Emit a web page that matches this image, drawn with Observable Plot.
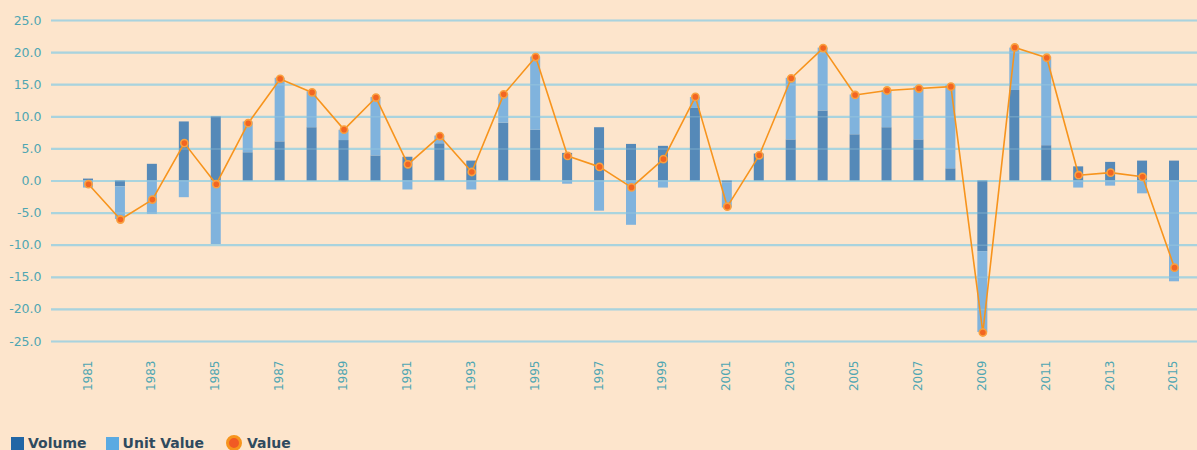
<!DOCTYPE html>
<html>
<head>
<meta charset="utf-8">
<script src="https://cdn.jsdelivr.net/npm/d3@7"></script>
<script src="https://cdn.jsdelivr.net/npm/@observablehq/plot@0.6"></script>
<style>
  html, body { margin: 0; padding: 0; background: #fde5cc; overflow: hidden; }
  #chart svg { display: block; }
  .legend { display: flex; align-items: center; height: 16px; padding-top: 1px; margin-left: 11px;
            font-family: "DejaVu Sans", sans-serif; font-weight: bold; font-size: 14px; color: #2f4a5e; }
  .legend .sw { width: 13px; height: 13px; margin-right: 4px; }
  .legend .item { display: flex; align-items: center; }
  .legend .dotsw { width: 10px; height: 10px; border-radius: 50%; background: #f15a24; border: 3px solid #f7941d; margin-right: 5px; }
</style>
</head>
<body>
<div id="chart"></div>
<div class="legend">
  <div class="item"><div class="sw" style="background:#2166a5"></div><span>Volume</span></div>
  <div class="item" style="margin-left:19px"><div class="sw" style="background:#5aaae2"></div><span>Unit Value</span></div>
  <div class="item" style="margin-left:22px"><div class="dotsw"></div><span>Value</span></div>
</div>
<script>
const years = d3.range(1981, 2016);
const volume = [0.3, -0.9, 2.6, 9.2, 10.0, 4.4, 6.1, 8.3, 6.3, 3.9,
                3.7, 5.8, 3.1, 9.0, 7.9, 4.3, 8.3, 5.7, 5.4, 11.3,
                -0.3, 4.2, 6.4, 10.9, 7.2, 8.3, 6.4, 1.9, -11.0, 14.1,
                5.5, 2.2, 2.9, 3.1, 3.1];
const unitValue = [-1.1, -5.1, -5.2, -2.6, -9.9, 4.8, 9.9, 5.6, 1.6, 9.1,
                   -1.4, 1.2, -1.4, 4.5, 11.4, -0.5, -4.7, -6.9, -1.1, 1.7,
                   -3.9, 0.0, 9.6, 9.8, 6.2, 5.8, 8.2, 13.0, -12.6, 6.6,
                   13.8, -1.1, -0.8, -2.0, -15.7];
const value = [-0.5, -6.0, -2.9, 5.9, -0.5, 9.0, 15.9, 13.8, 8.0, 13.0,
               2.6, 7.0, 1.4, 13.5, 19.3, 3.9, 2.2, -1.0, 3.4, 13.1,
               -4.0, 4.0, 16.0, 20.7, 13.4, 14.1, 14.4, 14.7, -23.6, 20.8,
               19.2, 0.9, 1.3, 0.65, -13.5];
const yTicks = [25, 20, 15, 10, 5, 0, -5, -10, -15, -20, -25];
const xTickYears = years.filter(y => y % 2 === 1);
const seriesNames = ["Volume", "Unit Value"];

const barData = [];
years.forEach((yr, i) => {
  barData.push({year: yr, series: seriesNames[0], v: volume[i]});
  barData.push({year: yr, series: seriesNames[1], v: unitValue[i]});
});
const valueData = years.map((yr, i) => ({year: yr, v: value[i]}));

const axisColor = "#4fa6b2";
const gridColor = "#a9d3de";

const chart = Plot.plot({
  width: 1197,
  height: 434,
  marginLeft: 51,
  marginRight: 0,
  marginTop: 20,
  marginBottom: 93,
  style: {background: "transparent", fontFamily: "DejaVu Sans, sans-serif"},
  x: {type: "band", domain: years, range: [51, 1211], paddingInner: 0.687, paddingOuter: 1.002, round: false, axis: null},
  y: {domain: [-25, 25], axis: null},
  color: {domain: seriesNames, range: ["#5589b8", "#80b3dd"]},
  marks: [
    Plot.ruleY(yTicks, {stroke: gridColor, strokeWidth: 2.2}),
    Plot.barY(barData, {x: "year", y: "v", fill: "series"}),
    Plot.ruleY(yTicks, {stroke: gridColor, strokeWidth: 1.5, strokeOpacity: 0.3}),
    Plot.line(valueData, {x: "year", y: "v", stroke: "#f7941d", strokeWidth: 1.6}),
    Plot.dot(valueData, {x: "year", y: "v", r: 3.6, fill: "#f26522", stroke: "#f9a03f", strokeWidth: 1.6, ariaLabel: "valuedots"}),
    Plot.text(yTicks, {y: d => d, text: d => d.toFixed(1), frameAnchor: "left", textAnchor: "end", dx: -10, fill: axisColor, fontSize: 12.5}),
    Plot.text(xTickYears, {x: d => d, text: d => String(d), frameAnchor: "bottom", rotate: -90, textAnchor: "end", dy: 19, dx: 3, fill: axisColor, fontSize: 12})
  ]
});
document.getElementById("chart").appendChild(chart);
chart.querySelectorAll('g[aria-label="valuedots"]').forEach(g => {
  g.style.filter = "drop-shadow(1px 2px 1.5px rgba(0,0,0,0.65))";
});
</script>
</body>
</html>
